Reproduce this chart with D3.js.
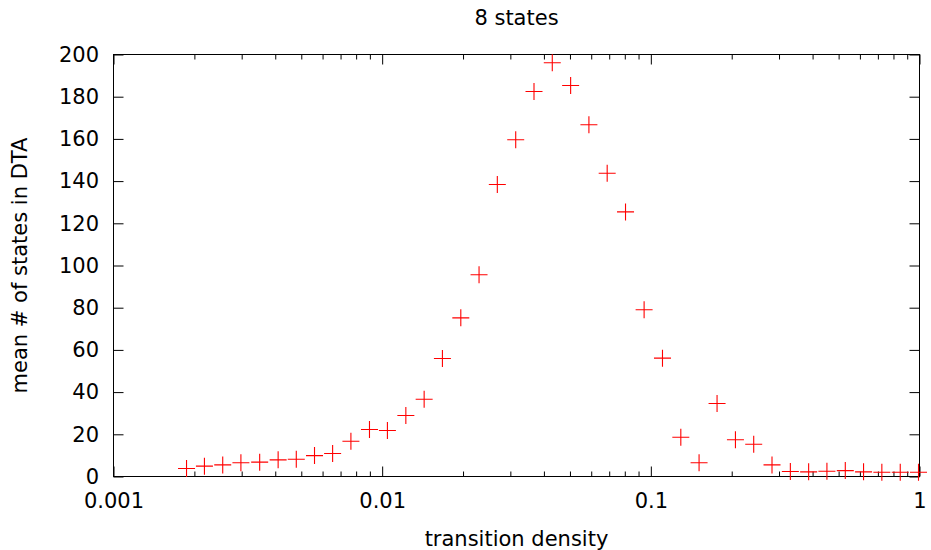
<!DOCTYPE html>
<html>
<head>
<meta charset="utf-8">
<script src="https://cdn.jsdelivr.net/npm/d3@7"></script>
<style>
  html, body { margin: 0; padding: 0; background: #fff; }
  svg { display: block; }
  text { font-family: "DejaVu Sans", sans-serif; fill: #000; }
</style>
</head>
<body>
<script>
const titleText = "8 states";
const xLabel = "transition density";
const yLabel = "mean # of states in DTA";

const density = [0.00187, 0.00218, 0.00255, 0.00298, 0.00350, 0.00410, 0.00479, 0.00560, 0.00654, 0.00765,
  0.00897, 0.01046, 0.01225, 0.01433, 0.01676, 0.01962, 0.02294, 0.02683, 0.03141, 0.03674,
  0.04297, 0.05029, 0.05882, 0.06879, 0.08050, 0.0944, 0.1105, 0.1293, 0.1512, 0.1764,
  0.2065, 0.2415, 0.2825, 0.3306, 0.3867, 0.4523, 0.5294, 0.6191, 0.7242, 0.8479, 0.9915];
const meanStates = [3.8, 4.9, 5.5, 6.5, 6.8, 7.9, 8.2, 9.9, 10.9, 16.7,
  22.3, 21.8, 28.9, 36.6, 55.9, 75.2, 95.6, 138.4, 159.6, 182.5,
  196.1, 185.3, 166.7, 143.7, 125.4, 79.0, 56.1, 18.6, 6.5, 34.6,
  17.4, 15.3, 5.5, 2.4, 2.2, 2.5, 2.8, 2.2, 2.0, 2.0, 2.0];

const xMajorTicks = [0.001, 0.01, 0.1, 1];
const xMajorLabels = ["0.001", "0.01", "0.1", "1"];
const xMinorTicks = [2,3,4,5,6,7,8,9].flatMap(m => [0.001, 0.01, 0.1].map(d => m * d));
const yTicks = [0, 20, 40, 60, 80, 100, 120, 140, 160, 180, 200];

const W = 931, H = 550;
const mLeft = 113.5, mRight = 919.5, mTop = 54.5, mBottom = 476.5;

const svg = d3.select("body").append("svg").attr("width", W).attr("height", H);

const x = d3.scaleLog().domain([0.001, 1]).range([mLeft, mRight]);
const y = d3.scaleLinear().domain([0, 200]).range([mBottom, mTop]);

const fs = 21;

function styleAxis(g) {
  g.select(".domain").remove();
  g.selectAll("line").attr("stroke", "#000").attr("stroke-width", 1);
  g.selectAll("text").attr("font-size", fs).attr("font-family", "DejaVu Sans, sans-serif").attr("fill", "#000");
}

svg.append("g").attr("transform", `translate(0,${mBottom})`)
  .call(d3.axisBottom(x).tickValues(xMajorTicks).tickFormat((d, i) => xMajorLabels[i])
    .tickSizeInner(-10).tickSizeOuter(0).tickPadding(16.5))
  .call(styleAxis);
svg.append("g").attr("transform", `translate(0,${mBottom})`)
  .call(d3.axisBottom(x).tickValues(xMinorTicks).tickFormat("").tickSizeInner(-5).tickSizeOuter(0))
  .call(styleAxis);
svg.append("g").attr("transform", `translate(0,${mTop})`)
  .call(d3.axisTop(x).tickValues(xMajorTicks).tickFormat("").tickSizeInner(-10).tickSizeOuter(0))
  .call(styleAxis);
svg.append("g").attr("transform", `translate(0,${mTop})`)
  .call(d3.axisTop(x).tickValues(xMinorTicks).tickFormat("").tickSizeInner(-5).tickSizeOuter(0))
  .call(styleAxis);
svg.append("g").attr("transform", `translate(${mLeft},0)`)
  .call(d3.axisLeft(y).tickValues(yTicks).tickFormat(d3.format("d"))
    .tickSizeInner(-10).tickSizeOuter(0).tickPadding(14.5))
  .call(styleAxis);
svg.append("g").attr("transform", `translate(${mRight},0)`)
  .call(d3.axisRight(y).tickValues(yTicks).tickFormat("").tickSizeInner(-10).tickSizeOuter(0))
  .call(styleAxis);

svg.append("rect").attr("x", mLeft).attr("y", mTop)
  .attr("width", mRight - mLeft).attr("height", mBottom - mTop)
  .attr("fill", "none").attr("stroke", "#000").attr("stroke-width", 1);

const pts = svg.append("g").attr("stroke", "#ff0000").attr("stroke-width", 1.1).attr("fill", "none");
const r = 8.5;
density.forEach((d, i) => {
  const px = x(d), py = y(meanStates[i]);
  pts.append("path").attr("d", `M${px - r},${py}H${px + r}M${px},${py - r}V${py + r}`);
});

svg.append("text").attr("x", (mLeft + mRight) / 2).attr("y", 25)
  .attr("text-anchor", "middle").attr("font-size", fs).text(titleText);
svg.append("text").attr("x", (mLeft + mRight) / 2).attr("y", 546)
  .attr("text-anchor", "middle").attr("font-size", fs).text(xLabel);
svg.append("text").attr("transform", `translate(27,${(mTop + mBottom) / 2}) rotate(-90)`)
  .attr("text-anchor", "middle").attr("font-size", fs).text(yLabel);
</script>
</body>
</html>
